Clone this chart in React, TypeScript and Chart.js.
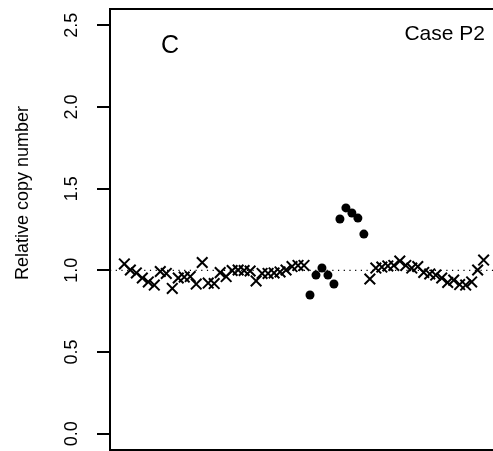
import { useEffect, useRef } from "react";
import { Chart, registerables } from "chart.js";

Chart.register(...registerables);

// Probes 1..31 (normal, crosses)
const leftProbes = [
  1.039, 1.002, 0.984, 0.953, 0.929, 0.91, 0.993, 0.981, 0.889, 0.953,
  0.959, 0.962, 0.916, 1.048, 0.922, 0.919, 0.986, 0.962, 0.999, 1.002,
  0.999, 0.996, 0.935, 0.981, 0.981, 0.984, 0.99, 1.002, 1.023, 1.03, 1.03,
];
// Probes 32..41 (filled dots)
const highlightedProbes = [0.849, 0.971, 1.014, 0.971, 0.916, 1.314, 1.382, 1.351, 1.32, 1.222];
// Probes 42..61 (normal, crosses)
const rightProbes = [
  0.947, 1.014, 1.02, 1.027, 1.03, 1.057, 1.03, 1.014, 1.023, 0.987,
  0.978, 0.971, 0.953, 0.926, 0.94, 0.913, 0.91, 0.929, 1.002, 1.063,
];
const yTicks = [0, 0.5, 1, 1.5, 2, 2.5];
const yTickLabels = ["0.0", "0.5", "1.0", "1.5", "2.0", "2.5"];
const referenceLevel = 1.0;
const panelLabel = "C";
const caseLabel = "Case P2";
const yTitle = "Relative copy number";

const FONT = "'Liberation Sans', Arial, Helvetica, sans-serif";

export default function App() {
  const ref = useRef<HTMLCanvasElement | null>(null);

  useEffect(() => {
    if (!ref.current) return;
    const nLeft = leftProbes.length;
    const nHi = highlightedProbes.length;
    const crosses = [
      ...leftProbes.map((v, i) => ({ x: i + 1, y: v })),
      ...rightProbes.map((v, i) => ({ x: nLeft + nHi + i + 1, y: v })),
    ];
    const dots = highlightedProbes.map((v, i) => ({ x: nLeft + i + 1, y: v }));
    const total = nLeft + nHi + rightProbes.length;
    const ext = (total - 1) * 0.04;
    const xMin = 1 - ext;
    const xMax = total + ext;

    const overlay = {
      id: "overlay",
      afterDraw(chart: any) {
        const { ctx, chartArea } = chart;
        const ys = chart.scales.y;
        ctx.save();
        ctx.strokeStyle = "#000";
        ctx.lineWidth = 2;
        ctx.strokeRect(chartArea.left, chartArea.top, chartArea.right - chartArea.left, chartArea.bottom - chartArea.top);
        ctx.fillStyle = "#000";
        ctx.font = `18px ${FONT}`;
        ctx.textAlign = "center";
        ctx.textBaseline = "middle";
        yTicks.forEach((v, i) => {
          const y = ys.getPixelForValue(v);
          ctx.save();
          ctx.translate(72, y);
          ctx.rotate(-Math.PI / 2);
          ctx.fillText(yTickLabels[i], 0, 0);
          ctx.restore();
        });
        ctx.save();
        ctx.translate(23, 193);
        ctx.rotate(-Math.PI / 2);
        ctx.fillText(yTitle, 0, 0);
        ctx.restore();
        ctx.font = `25px ${FONT}`;
        ctx.textAlign = "center";
        ctx.fillText(panelLabel, 170, 46);
        ctx.font = `21px ${FONT}`;
        ctx.textAlign = "right";
        ctx.fillText(caseLabel, 485, 34);
        ctx.restore();
      },
    };

    const chart = new Chart(ref.current, {
      type: "scatter",
      data: {
        datasets: [
          {
            type: "line",
            data: [
              { x: xMin, y: referenceLevel },
              { x: xMax, y: referenceLevel },
            ],
            borderColor: "#000",
            borderWidth: 1.2,
            borderDash: [1.2, 4.5],
            pointRadius: 0,
            fill: false,
          } as any,
          {
            data: crosses,
            pointStyle: "crossRot",
            pointRadius: 7.5,
            borderColor: "#000",
            borderWidth: 2,
            backgroundColor: "#000",
          },
          {
            data: dots,
            pointStyle: "circle",
            pointRadius: 4.5,
            borderWidth: 0,
            backgroundColor: "#000",
            borderColor: "#000",
          },
        ],
      },
      options: {
        animation: false,
        responsive: false,
        maintainAspectRatio: false,
        layout: { autoPadding: false, padding: { top: 9, bottom: 1, left: 0, right: 0 } },
        plugins: { legend: { display: false }, tooltip: { enabled: false } },
        scales: {
          x: { type: "linear", min: xMin, max: xMax, display: false },
          y: {
            type: "linear",
            min: -0.1,
            max: 2.6,
            afterBuildTicks: (scale: any) => {
              scale.ticks = yTicks.map((v) => ({ value: v }));
            },
            afterFit: (scale: any) => {
              scale.width = 110;
            },
            ticks: { display: false },
            border: { display: false },
            grid: {
              drawOnChartArea: false,
              drawTicks: true,
              tickLength: 13,
              color: "#000",
              lineWidth: 2,
            },
          },
        },
      },
      plugins: [overlay],
    });
    return () => chart.destroy();
  }, []);

  return (
    <div style={{ position: "fixed", left: 0, top: 0, width: 493, height: 451, overflow: "hidden", background: "#fff" }}>
      <canvas ref={ref} width={498} height={451} style={{ display: "block" }} />
    </div>
  );
}
